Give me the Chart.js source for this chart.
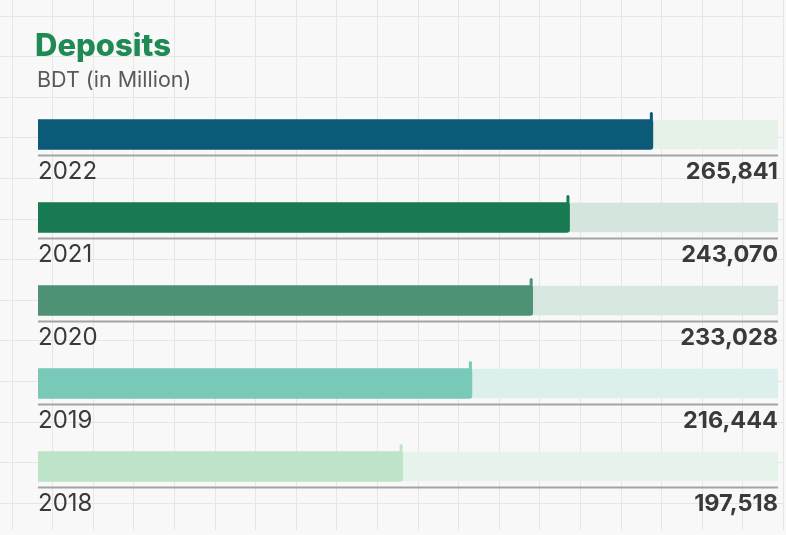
<!DOCTYPE html>
<html>
<head>
<meta charset="utf-8">
<script src="https://cdn.jsdelivr.net/npm/chart.js@4"></script>
<style>
  html, body { margin: 0; padding: 0; background: #f8f8f8; }
  #wrap { width: 786px; height: 535px; position: relative; }
</style>
</head>
<body>
<div id="wrap"><canvas id="deposits" width="786" height="535"></canvas></div>
<script>
const years = ['2022', '2021', '2020', '2019', '2018'];
const deposits = [265841, 243070, 233028, 216444, 197518];
const axisMin = 98000;
const axisMax = 300000;
const barColors = ['#0b5a78', '#177a52', '#4e9175', '#78c9b8', '#bde3c8'];
const trackColors = ['#e6f2e8', '#d3e5dc', '#d8e6e0', '#dbf0ec', '#e6f3ea'];

const FONT = 'Inter, "Open Sans", sans-serif';

// graph-paper backdrop
const paper = {
  id: 'paper',
  beforeDraw(chart) {
    const { ctx, width, height } = chart;
    ctx.save();
    ctx.fillStyle = '#f8f8f8';
    ctx.fillRect(0, 0, width, height);
    ctx.strokeStyle = '#e6e6e6';
    ctx.lineWidth = 1;
    for (let x = 11.5; x < width; x += 40.6) {
      ctx.beginPath(); ctx.moveTo(Math.round(x) + 0.5, 0); ctx.lineTo(Math.round(x) + 0.5, 530); ctx.stroke();
    }
    for (let y = 15.5; y < 530; y += 40.6) {
      ctx.beginPath(); ctx.moveTo(0, Math.round(y) + 0.5); ctx.lineTo(784, Math.round(y) + 0.5); ctx.stroke();
    }
    ctx.restore();
  }
};

// heading, baselines, end ticks and labels
const decorations = {
  id: 'decorations',
  afterDatasetsDraw(chart) {
    const { ctx, chartArea } = chart;
    const meta = chart.getDatasetMeta(1);
    ctx.save();

    ctx.fillStyle = '#1f8a54';
    ctx.font = '800 31px ' + FONT;
    ctx.textBaseline = 'alphabetic';
    ctx.textAlign = 'left';
    ctx.fillText('Deposits', 35, 56);
    ctx.fillStyle = '#5a5a5a';
    ctx.font = '21.5px ' + FONT;
    ctx.fillText('BDT (in Million)', 37, 87);

    meta.data.forEach((bar, i) => {
      const bottom = bar.y + bar.height / 2;
      const top = bar.y - bar.height / 2;

      ctx.strokeStyle = '#a3a3a3';
      ctx.lineWidth = 2;
      ctx.beginPath();
      ctx.moveTo(chartArea.left, bottom + 6);
      ctx.lineTo(chartArea.right, bottom + 6);
      ctx.stroke();

      ctx.strokeStyle = barColors[i];
      ctx.lineWidth = 3;
      ctx.lineCap = 'round';
      ctx.beginPath();
      ctx.moveTo(bar.x - 1.5, top - 6);
      ctx.lineTo(bar.x - 1.5, bottom - 2);
      ctx.stroke();
      ctx.lineCap = 'butt';

      ctx.fillStyle = '#3a3a3a';
      ctx.textBaseline = 'middle';
      ctx.font = '24px ' + FONT;
      ctx.textAlign = 'left';
      ctx.fillText(years[i], chartArea.left, bar.y + 37);
      ctx.font = 'bold 23.5px ' + FONT;
      ctx.textAlign = 'right';
      ctx.fillText(deposits[i].toLocaleString('en-US'), chartArea.right, bar.y + 37);
    });
    ctx.restore();
  }
};

new Chart(document.getElementById('deposits'), {
  type: 'bar',
  data: {
    labels: years,
    datasets: [
      {
        label: 'track',
        data: years.map(() => axisMax),
        backgroundColor: trackColors,
        barThickness: 29,
        grouped: false,
        order: 2
      },
      {
        label: 'Deposits',
        data: deposits,
        backgroundColor: barColors,
        barThickness: 30,
        borderRadius: { topRight: 3, bottomRight: 3 },
        borderSkipped: false,
        grouped: false,
        order: 1
      }
    ]
  },
  options: {
    indexAxis: 'y',
    responsive: false,
    animation: false,
    layout: { padding: { left: 38, right: 8, top: 93, bottom: 27 } },
    scales: {
      x: { display: false, min: axisMin, max: axisMax },
      y: { display: false }
    },
    plugins: {
      legend: { display: false },
      tooltip: { enabled: false }
    }
  },
  plugins: [paper, decorations]
});
</script>
</body>
</html>
